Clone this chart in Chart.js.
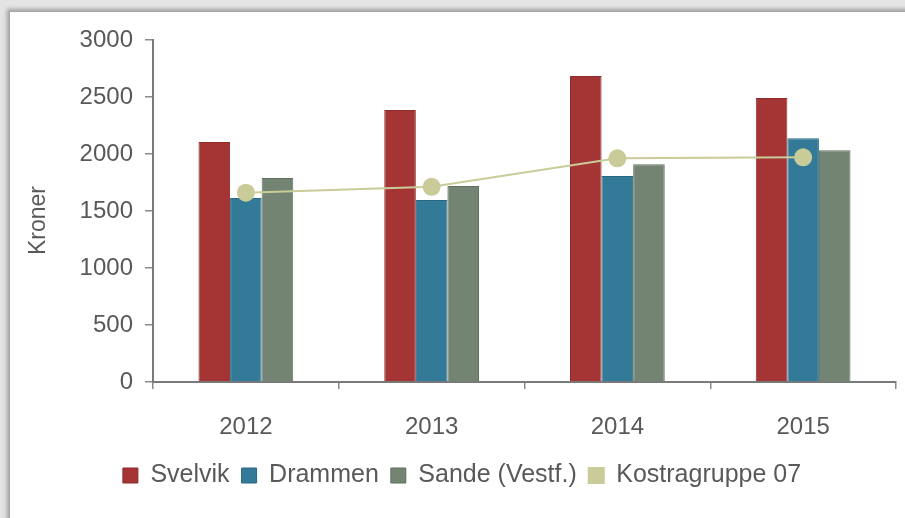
<!DOCTYPE html>
<html>
<head>
<meta charset="utf-8">
<script src="https://cdn.jsdelivr.net/npm/chart.js@4"></script>
<style>
  html, body { margin: 0; padding: 0; }
  body { width: 905px; height: 518px; background: #e4e4e4; position: relative; overflow: hidden; }
  #panel { position: absolute; left: 10px; top: 12px; width: 920px; height: 520px; background: #fff;
           box-shadow: -3px -3px 4px #a0a0a0; }
  #wrap { position: absolute; left: 0; top: 0; width: 905px; height: 518px; }
</style>
</head>
<body>
<div id="panel"></div>
<div id="wrap"><canvas id="myChart" width="905" height="518"></canvas></div>
<script>
// data
const years = ['2012', '2013', '2014', '2015'];
const svelvik = [2105, 2386, 2684, 2491];
const drammen = [1614, 1596, 1807, 2138];
const sande = [1789, 1719, 1910, 2032];
const kostra = [1661, 1712, 1962, 1971];
const yTicks = [0, 500, 1000, 1500, 2000, 2500, 3000];

const txt = '#595959';
const fontName = "'Liberation Sans', Arial, sans-serif";

var ctx = document.getElementById('myChart').getContext('2d');

var myChart = new Chart(ctx, {
    type: 'bar',
    data: {
        labels: years,
        datasets: [
            {
                label: 'Svelvik',
                data: svelvik,
                backgroundColor: '#a53535',
                borderColor: '#8e2b2b',
                borderWidth: 1,
                order: 1
            },
            {
                label: 'Drammen',
                data: drammen,
                backgroundColor: '#337a99',
                borderColor: '#2a6882',
                borderWidth: 1,
                order: 1
            },
            {
                label: 'Sande (Vestf.)',
                data: sande,
                backgroundColor: '#738572',
                borderColor: '#5f705f',
                borderWidth: 1,
                order: 1
            },
            {
                type: 'line',
                label: 'Kostragruppe 07',
                data: kostra,
                borderColor: '#c9cc98',
                backgroundColor: '#c9cc98',
                borderWidth: 2,
                pointRadius: 9,
                pointHoverRadius: 9,
                pointBorderWidth: 0,
                pointBackgroundColor: '#c9cc98',
                order: 0
            }
        ]
    },
    options: {
        responsive: false,
        animation: false,
        layout: {
            padding: { left: 23, right: 4, top: 40, bottom: 20 }
        },
        datasets: {
            bar: { barPercentage: 1, categoryPercentage: 0.51 }
        },
        plugins: {
            tooltip: { enabled: false },
            legend: {
                position: 'bottom',
                labels: {
                    color: txt,
                    font: { family: fontName, size: 25 },
                    boxWidth: 15,
                    boxHeight: 15,
                    padding: 12,
                    sort: (a, b) => a.datasetIndex - b.datasetIndex
                }
            }
        },
        scales: {
            x: {
                grid: {
                    offset: true,
                    drawOnChartArea: false,
                    tickLength: 7,
                    color: '#8a8a8a',
                    lineWidth: 1.5
                },
                border: { color: '#7a7a7a', width: 2 },
                ticks: {
                    color: txt,
                    font: { family: fontName, size: 24 },
                    padding: 24
                },
                afterFit: function (scale) { scale.height = 69; }
            },
            y: {
                min: 0,
                max: 3000,
                afterBuildTicks: function (scale) {
                    scale.ticks = yTicks.map(v => ({ value: v }));
                },
                grid: {
                    drawOnChartArea: false,
                    tickLength: 8,
                    color: '#8a8a8a',
                    lineWidth: 1.5
                },
                border: { color: '#7a7a7a', width: 2 },
                ticks: {
                    color: txt,
                    font: { family: fontName, size: 24 },
                    padding: 12,
                    callback: v => String(v)
                },
                title: {
                    display: true,
                    // trailing spaces push the word a little lower, as in the original
                    text: 'Kroner   ',
                    color: txt,
                    font: { family: fontName, size: 23 },
                    padding: { top: 2, bottom: 0 }
                },
                afterFit: function (scale) { scale.width = 130; }
            }
        }
    }
});
</script>
</body>
</html>
